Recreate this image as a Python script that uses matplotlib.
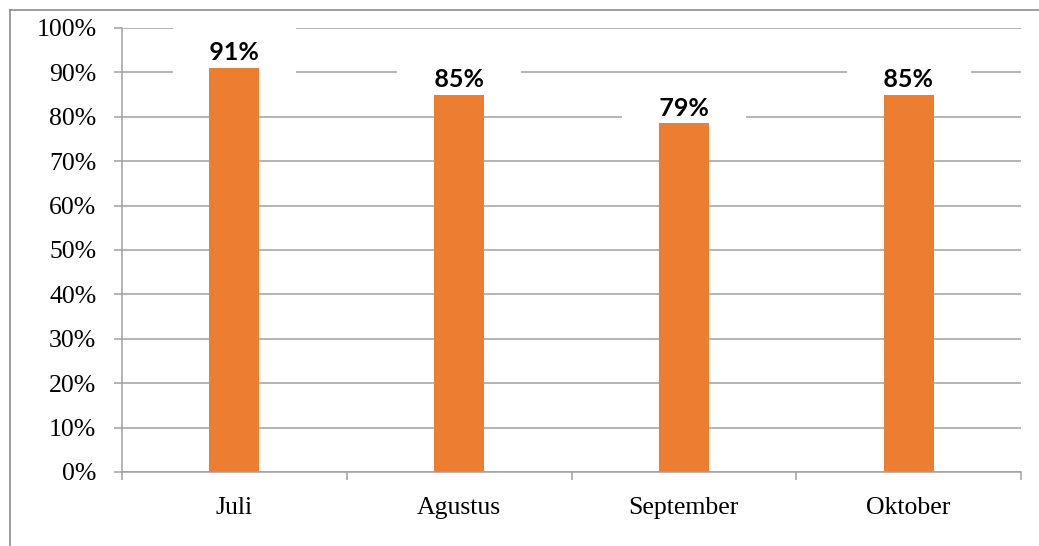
import matplotlib.pyplot as plt
from matplotlib.lines import Line2D

# data
months = ['Juli', 'Agustus', 'September', 'Oktober']
values = [91, 85, 78.5, 85]
value_labels = ['91%', '85%', '79%', '85%']
y_ticks = [0, 10, 20, 30, 40, 50, 60, 70, 80, 90, 100]

BAR_COLOR = '#ED7D31'
GRID_COLOR = '#A0A0A0'
SERIF = {'family': 'Liberation Serif', 'size': 18.5}

fig = plt.figure(figsize=(10.39, 5.46), dpi=100)
ax = fig.add_axes([122 / 1039, 74 / 546, 899 / 1039, 444 / 546])

x = list(range(len(months)))
# bars sit above the white label boxes
ax.bar(x, values, width=0.222, color=BAR_COLOR, zorder=6)

ax.set_xlim(-0.5, len(months) - 0.5)
ax.set_ylim(0, 100)

# y axis
ax.set_yticks(y_ticks)
ax.set_yticklabels([f'{t}%' for t in y_ticks], **SERIF)
ax.yaxis.grid(True, color=GRID_COLOR, linewidth=1.1, zorder=0)
ax.tick_params(axis='y', length=5.5, width=1.1, color=GRID_COLOR, pad=13)

# x axis: labels centred, ticks on category boundaries
ax.set_xticks(x)
ax.set_xticklabels(months, **SERIF)
ax.set_xticks([i - 0.5 for i in range(len(months) + 1)], minor=True)
ax.tick_params(axis='x', which='major', length=0, pad=18)
ax.tick_params(axis='x', which='minor', length=5.5, width=1.1, color=GRID_COLOR)

for s in ['top', 'right']:
    ax.spines[s].set_visible(False)
for s in ['left', 'bottom']:
    ax.spines[s].set_color(GRID_COLOR)
    ax.spines[s].set_linewidth(1.1)
    ax.spines[s].set_zorder(7)
ax.set_axisbelow(True)

# data labels with white box hiding gridlines
for xi, v, lab in zip(x, values, value_labels):
    ax.annotate('   ' + lab + '   ', (xi, v), xytext=(0, 2.5), textcoords='offset points',
                ha='center', va='bottom', fontsize=18, fontweight='bold',
                family='Lato', color='black', zorder=5,
                bbox=dict(boxstyle='square,pad=0.75', fc='white', ec='none'))

# outer frame (left and top edges visible)
fig.add_artist(Line2D([9.5 / 1039, 9.5 / 1039], [0, 1 - 10 / 546],
                      transform=fig.transFigure, color='#8C8C8C', lw=1.2))
fig.add_artist(Line2D([9.5 / 1039, 1], [1 - 10 / 546, 1 - 10 / 546],
                      transform=fig.transFigure, color='#8C8C8C', lw=1.2))

fig.savefig('out.png', dpi=100)
